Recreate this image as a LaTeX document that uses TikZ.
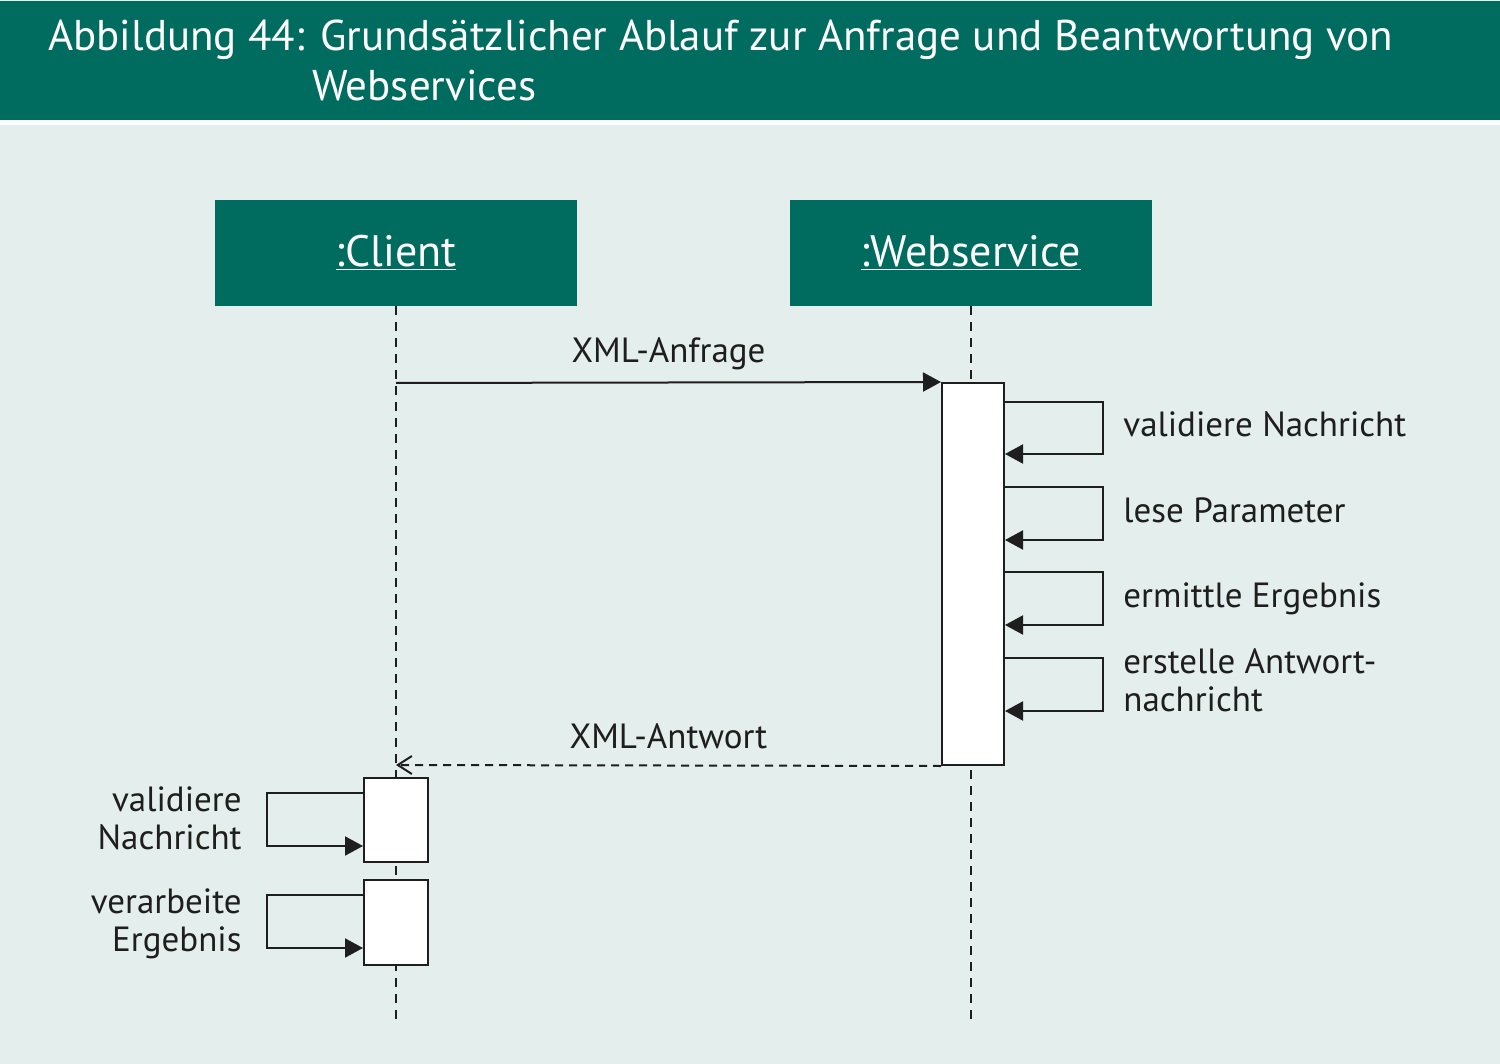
\documentclass[tikz,border=0pt]{standalone}
\usepackage{fontspec}
\setmainfont{PT Sans}
\usetikzlibrary{arrows.meta}
\definecolor{hdr}{RGB}{0,108,96}
\definecolor{bgl}{RGB}{228,238,236}
\definecolor{ink}{RGB}{30,30,30}
\tikzset{
  lifeline/.style={draw=ink, line width=1pt, dash pattern=on 4.5pt off 3.5pt},
  msg/.style={draw=ink, line width=1pt, -{Triangle[length=9pt,width=9.5pt]}},
  reply/.style={draw=ink, line width=1pt, dash pattern=on 4pt off 3pt, -{Straight Barb[length=7pt,width=9pt]}},
  headbox/.style={fill=hdr, text=white, minimum width=181pt, minimum height=53pt, inner sep=0pt, font=\fontsize{22}{26}\selectfont},
  actbox/.style={draw=ink, fill=white, line width=1pt, inner sep=0pt},
  lbl/.style={text=ink, inner sep=0pt, font=\fontsize{17.5}{19}\selectfont},
}
\begin{document}
\begin{tikzpicture}[x=0.5pt,y=-0.5pt]
\useasboundingbox (0,0) rectangle (1500,1064);
\fill[bgl] (0,0) rectangle (1500,1064);
\fill[white] (0,118) rectangle (1500,125);
\fill[hdr] (0,1) rectangle (1500,120);
\node[anchor=base west, inner sep=0pt, text=white, align=left, font=\fontsize{21.5}{25}\selectfont] (title) at (48,101)
  {Abbildung 44: Grundsätzlicher Ablauf zur Anfrage und Beantwortung von\\\hspace*{-4pt}\hphantom{Abbildung 44: }Webservices};

% participants
\node[headbox] (client) at (396,253) {\raisebox{-2pt}{\underline{:Client}}};
\node[headbox] (ws) at (971,253) {\raisebox{-2pt}{\underline{:Webservice}}};

% lifelines
\coordinate (clend) at (396,1022);
\coordinate (wsend) at (971,1022);
\draw[lifeline] (client.south) -- (clend);
\draw[lifeline] (ws.south) -- (wsend);

% activations
\node[actbox, minimum width=31pt, minimum height=191pt] (wsact) at (973,574) {};
\node[actbox, minimum width=32pt, minimum height=42pt] (cact1) at (396,820) {};
\node[actbox, minimum width=32pt, minimum height=42.5pt] (cact2) at (396,922.5) {};

% request
\coordinate (reqstart) at (396,383);
\draw[msg] (reqstart) -- (wsact.north west) node[lbl, midway, above=6pt] (reqlbl) {XML-Anfrage};

% reply
\coordinate (repend) at (396,765);
\draw[reply] (wsact.south west) -- (repend) node[lbl, pos=0.5, above=8pt] (replbl) {XML-Antwort};

% webservice self calls
\foreach \ya/\yb/\nm in {402/454/s1, 487/540/s2, 572/625/s3, 658/711/s4}{
  \draw[msg] (wsact.east |- 0,\ya) -- ++(98,0) coordinate (\nm) |- (wsact.east |- 0,\yb);
}
\node[lbl, anchor=base west] (l1) at (1123,437) {validiere Nachricht};
\node[lbl, anchor=base west] (l2) at (1123,522) {lese Parameter};
\node[lbl, anchor=base west] (l3) at (1123,607) {ermittle Ergebnis};
\node[lbl, anchor=base west] (l4a) at (1123,673) {erstelle Antwort-};
\node[lbl, anchor=base west] (l4b) at (1123,711) {nachricht};

% client self calls
\draw[msg] (cact1.west |- 0,793) -- ++(-96,0) coordinate (c1) |- (cact1.west |- 0,846);
\draw[msg] (cact2.west |- 0,895) -- ++(-96,0) coordinate (c2) |- (cact2.west |- 0,948);
\node[lbl, anchor=base east] (m1a) at (242,811) {validiere};
\node[lbl, anchor=base east] (m1b) at (242,849) {Nachricht};
\node[lbl, anchor=base east] (m2a) at (242,913) {verarbeite};
\node[lbl, anchor=base east] (m2b) at (242,951) {Ergebnis};
\end{tikzpicture}
\end{document}
